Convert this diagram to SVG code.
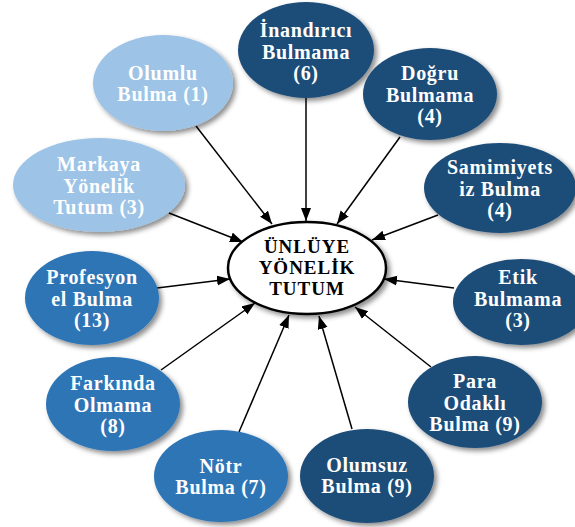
<svg xmlns="http://www.w3.org/2000/svg" width="575" height="527" viewBox="0 0 575 527">
<defs>
<filter id="sh" x="-20%" y="-20%" width="140%" height="140%">
<feDropShadow dx="3" dy="3" stdDeviation="2.5" flood-color="#000" flood-opacity="0.45"/>
</filter>
<marker id="ah" markerUnits="userSpaceOnUse" markerWidth="14" markerHeight="12" refX="13" refY="5" orient="auto">
<path d="M0,0 L13,5 L0,10 z" fill="#000"/>
</marker>
<style>
.n{filter:url(#sh);}
.dark{fill:#1F4E79;}
.med{fill:#2E75B6;}
.light{fill:#9DC3E6;}
.t{font-family:"Liberation Serif","Times New Roman",serif;font-weight:bold;font-size:20px;letter-spacing:0.7px;fill:#fff;text-anchor:middle;}
.c{fill:#000;font-size:19px;letter-spacing:1px;}
.e{stroke:#000;stroke-width:1.5;fill:none;marker-end:url(#ah);}
</style>
</defs>
<rect width="575" height="527" fill="#fff"/>
<g id="connectors">
<line class="e" x1="196" y1="126" x2="272" y2="224"/>
<line class="e" x1="169" y1="213" x2="243" y2="242"/>
<line class="e" x1="306" y1="98" x2="306" y2="221"/>
<line class="e" x1="400" y1="137" x2="337" y2="224"/>
<line class="e" x1="438" y1="215" x2="372" y2="240"/>
<line class="e" x1="454" y1="288" x2="384" y2="279"/>
<line class="e" x1="431" y1="367" x2="355" y2="307"/>
<line class="e" x1="352" y1="429" x2="319" y2="316"/>
<line class="e" x1="239" y1="432" x2="289" y2="315"/>
<line class="e" x1="161" y1="370" x2="255" y2="303"/>
<line class="e" x1="157" y1="288" x2="230" y2="279"/>
</g>
<g id="center">
<ellipse class="n" cx="307" cy="268" rx="79" ry="46" fill="#fff" stroke="#000" stroke-width="2.5"/>
<text class="t c" x="307" y="253">ÜNLÜYE</text>
<text class="t c" x="307" y="274">YÖNELİK</text>
<text class="t c" x="307" y="295">TUTUM</text>
</g>
<g id="inandirici">
<ellipse class="n dark" cx="306" cy="50" rx="68" ry="48"/>
<text class="t" x="306" y="37">İnandırıcı</text>
<text class="t" x="306" y="58.5">Bulmama</text>
<text class="t" x="306" y="80">(6)</text>
</g>
<g id="dogru">
<ellipse class="n dark" cx="430" cy="94" rx="67" ry="46"/>
<text class="t" x="430" y="80">Doğru</text>
<text class="t" x="430" y="101.5">Bulmama</text>
<text class="t" x="430" y="123">(4)</text>
</g>
<g id="samimiyet">
<ellipse class="n dark" cx="500" cy="188" rx="76" ry="45"/>
<text class="t" x="500" y="174">Samimiyets</text>
<text class="t" x="500" y="195.5">iz Bulma</text>
<text class="t" x="500" y="217">(4)</text>
</g>
<g id="etik">
<ellipse class="n dark" cx="521" cy="302" rx="68" ry="43"/>
<text class="t" x="518" y="284">Etik</text>
<text class="t" x="518" y="305.5">Bulmama</text>
<text class="t" x="518" y="327">(3)</text>
</g>
<g id="para">
<ellipse class="n dark" cx="475" cy="402" rx="67" ry="46"/>
<text class="t" x="475" y="388">Para</text>
<text class="t" x="475" y="409.5">Odaklı</text>
<text class="t" x="475" y="431">Bulma (9)</text>
</g>
<g id="olumsuz">
<ellipse class="n dark" cx="367" cy="476" rx="67" ry="47"/>
<text class="t" x="367" y="472">Olumsuz</text>
<text class="t" x="367" y="493">Bulma (9)</text>
</g>
<g id="notr">
<ellipse class="n med" cx="221" cy="476" rx="67" ry="46"/>
<text class="t" x="221" y="473">Nötr</text>
<text class="t" x="221" y="494">Bulma (7)</text>
</g>
<g id="farkinda">
<ellipse class="n med" cx="113" cy="404" rx="67" ry="47"/>
<text class="t" x="113" y="390">Farkında</text>
<text class="t" x="113" y="411.5">Olmama</text>
<text class="t" x="113" y="433">(8)</text>
</g>
<g id="profesyonel">
<ellipse class="n med" cx="92" cy="298" rx="67" ry="47"/>
<text class="t" x="92" y="284">Profesyon</text>
<text class="t" x="92" y="305.5">el Bulma</text>
<text class="t" x="92" y="327">(13)</text>
</g>
<g id="markaya">
<ellipse class="n light" cx="99" cy="185" rx="86" ry="47"/>
<text class="t" x="99" y="171">Markaya</text>
<text class="t" x="99" y="192.5">Yönelik</text>
<text class="t" x="99" y="214">Tutum (3)</text>
</g>
<g id="olumlu">
<ellipse class="n light" cx="163" cy="83" rx="70" ry="48"/>
<text class="t" x="163" y="80">Olumlu</text>
<text class="t" x="163" y="101">Bulma (1)</text>
</g>
</svg>
